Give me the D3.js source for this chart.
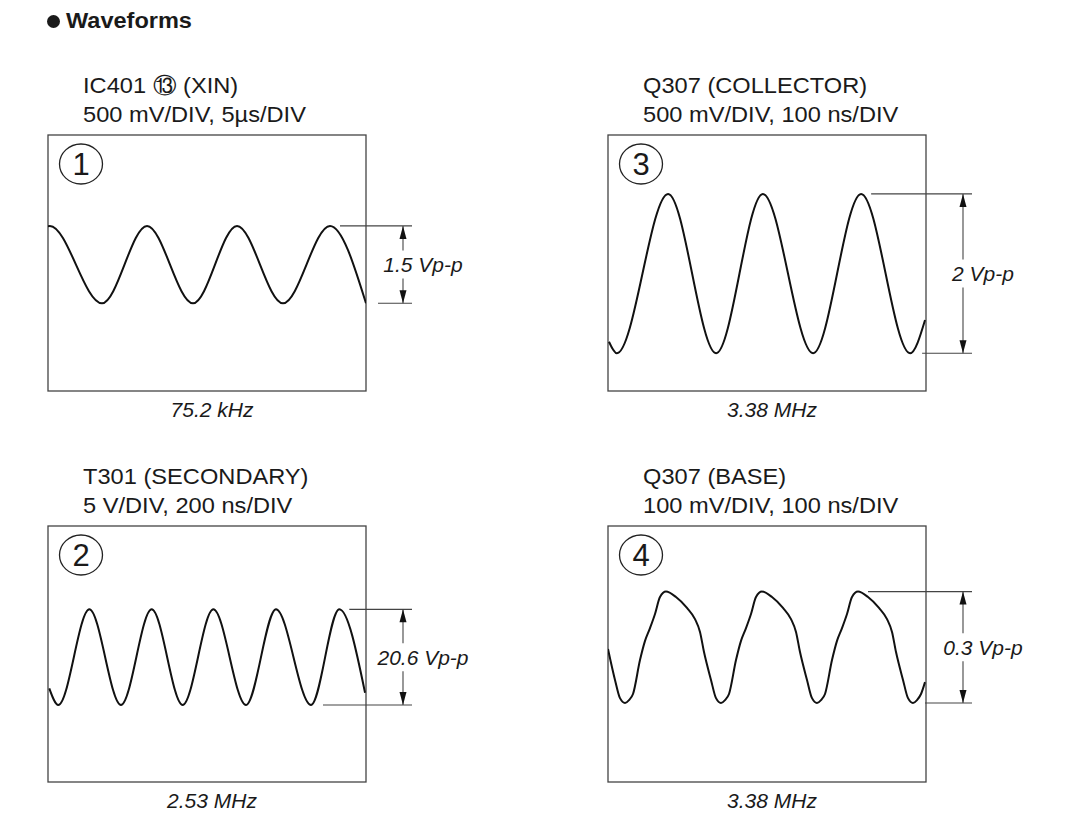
<!DOCTYPE html>
<html>
<head>
<meta charset="utf-8">
<script src="https://cdn.jsdelivr.net/npm/d3@7/dist/d3.min.js"></script>
<style>
  html, body { margin: 0; padding: 0; background: #ffffff; }
  svg { display: block; }
</style>
</head>
<body>
<svg id="chart" width="1069" height="831"></svg>
<script>
// ---------------- DATA ----------------
const heading = "Waveforms";

// panel order: ① top-left, ② bottom-left, ③ top-right, ④ bottom-right
const panelNumbers = ["1", "2", "3", "4"];
const titleLine1 = ["IC401 \u246C (XIN)", "T301 (SECONDARY)", "Q307 (COLLECTOR)", "Q307 (BASE)"];
const titleLine2 = ["500 mV/DIV, 5\u00B5s/DIV", "5 V/DIV, 200 ns/DIV", "500 mV/DIV, 100 ns/DIV", "100 mV/DIV, 100 ns/DIV"];
const timePerDiv = [5, 200, 100, 100];     // µs, ns, ns, ns
const voltPerDiv = [0.5, 5, 0.5, 100];     // V, V, V, mV
const vppLabels  = ["1.5 Vp-p", "20.6 Vp-p", "2 Vp-p", "0.3 Vp-p"];
const freqLabels = ["75.2 kHz", "2.53 MHz", "3.38 MHz", "3.38 MHz"];

// ① IC401 XIN : time (µs), voltage (V)
const wave1Time = [-1.2, 0.3, 8.49, 15.57, 22.80, 29.72, 36.95, 44.34, 50.0];
const wave1Volt = [0.50, 0.58, -0.63, 0.58, -0.63, 0.58, -0.63, 0.58, -0.63];

// ② T301 secondary : time (ns), voltage (V)
const wave2Time = [8, 65, 260, 459, 652, 847, 1040, 1245, 1434, 1654, 1832, 1994];
const wave2Volt = [-5.36, -7.97, 6.98, -7.97, 6.98, -7.97, 6.98, -7.97, 6.98, -7.97, 6.98, -6.05];

// ③ Q307 collector : time (ns), voltage (V)
const wave3Time = [3, 28, 189, 340, 487, 645, 796, 950, 997];
const wave3Volt = [-1.23, -1.41, 1.08, -1.41, 1.08, -1.41, 1.08, -1.41, -0.89];

// ④ Q307 base : time (ns), voltage (mV)
const wave4Time = [0, 22.0, 37.7,
  53.5, 66.0, 78.6, 100.6, 116.4, 132.1, 147.8, 163.5, 182.4, 213.8, 248.4, 273.6, 289.3, 301.9, 323.9, 339.6,
  355.3, 367.9, 380.5, 402.5, 418.2, 434.0, 449.7, 465.4, 484.3, 515.7, 550.3, 575.5, 591.2, 603.8, 625.8, 641.5,
  657.2, 669.8, 682.4, 704.4, 720.1, 735.9, 751.6, 767.3, 786.2, 817.6, 852.2, 877.4, 893.1, 905.7, 927.7, 943.4,
  959.1, 971.7, 984.3, 996.9];
const wave4Volt = [16, -81, -138,
  -153, -144, -125, -19, 41, 81, 125, 178, 195, 178, 144, 109, 69, 6, -81, -138,
  -153, -144, -125, -19, 41, 81, 125, 178, 195, 178, 144, 109, 69, 6, -81, -138,
  -153, -144, -125, -19, 41, 81, 125, 178, 195, 178, 144, 109, 69, 6, -81, -138,
  -153, -144, -125, -88];

const waveTimes = [wave1Time, wave2Time, wave3Time, wave4Time];
const waveVolts = [wave1Volt, wave2Volt, wave3Volt, wave4Volt];

// ---------------- LAYOUT ----------------
const svg = d3.select("#chart");
const FONT = "'Liberation Sans', Arial, Helvetica, sans-serif";
const TEXT = "#1a1a1a";
const BOX_W = 318, BOX_H = 256;
const boxX = [48, 48, 608, 608];
const boxY = [135, 526, 135, 526];

// heading
svg.append("circle").attr("cx", 53.5).attr("cy", 21.5).attr("r", 6.5).attr("fill", TEXT);
svg.append("text")
  .attr("transform", "translate(66,28) scale(1.07,1)")
  .attr("font-family", FONT).attr("font-weight", "bold").attr("font-size", 22)
  .attr("fill", TEXT).text(heading);

const defs = svg.append("defs");

panelNumbers.forEach((num, i) => {
  const x0 = boxX[i], y0 = boxY[i];
  const t = waveTimes[i], v = waveVolts[i];
  const x = d3.scaleLinear().domain([0, 10 * timePerDiv[i]]).range([x0, x0 + BOX_W]);
  const y = d3.scaleLinear().domain([-4 * voltPerDiv[i], 4 * voltPerDiv[i]]).range([y0 + BOX_H, y0]);
  const g = svg.append("g");

  // titles
  g.append("text")
    .attr("transform", `translate(${x0 + 35},${y0 - 42}) scale(1.075,1)`)
    .attr("font-family", FONT).attr("font-size", 22).attr("fill", TEXT)
    .text(titleLine1[i]);
  g.append("text")
    .attr("transform", `translate(${x0 + 35},${y0 - 13}) scale(1.075,1)`)
    .attr("font-family", FONT).attr("font-size", 22).attr("fill", TEXT)
    .text(titleLine2[i]);

  // frame
  g.append("rect")
    .attr("x", x.range()[0]).attr("y", y.range()[1])
    .attr("width", x.range()[1] - x.range()[0]).attr("height", y.range()[0] - y.range()[1])
    .attr("fill", "none").attr("stroke", "#444").attr("stroke-width", 1.3);

  // circled number
  g.append("ellipse")
    .attr("cx", x0 + 33).attr("cy", y0 + 29).attr("rx", 21.5).attr("ry", 20)
    .attr("fill", "none").attr("stroke", "#222").attr("stroke-width", 1.3);
  g.append("text")
    .attr("x", x0 + 33).attr("y", y0 + 40)
    .attr("text-anchor", "middle")
    .attr("font-family", FONT).attr("font-size", 31).attr("fill", TEXT)
    .text(num);

  // waveform
  const clipId = "clip" + i;
  defs.append("clipPath").attr("id", clipId)
    .append("rect").attr("x", x0).attr("y", y0).attr("width", BOX_W).attr("height", BOX_H);
  const pts = t.map((tt, k) => [tt, v[k]]);
  const line = d3.line().x(d => x(d[0])).y(d => y(d[1])).curve(d3.curveMonotoneX);
  g.append("path")
    .attr("d", line(pts))
    .attr("clip-path", `url(#${clipId})`)
    .attr("fill", "none").attr("stroke", "#111").attr("stroke-width", 2)
    .attr("stroke-linejoin", "round");

  // peak-to-peak annotation
  const vMax = d3.max(v), vMin = d3.min(v);
  let iPeak = 0, iTrough = 0;
  v.forEach((val, k) => { if (val === vMax) iPeak = k; if (val === vMin) iTrough = k; });
  const yT = y(vMax), yB = y(vMin);
  const xEnd = x0 + BOX_W + 46;
  const ax = x0 + BOX_W + 37;
  const yM = (yT + yB) / 2;
  const ann = g.append("g").attr("stroke", "#444").attr("stroke-width", 1.1).attr("fill", "none");
  ann.append("line").attr("x1", x(t[iPeak]) + 10).attr("x2", xEnd).attr("y1", yT).attr("y2", yT);
  ann.append("line").attr("x1", x(t[iTrough]) + 12).attr("x2", xEnd).attr("y1", yB).attr("y2", yB);
  ann.append("line").attr("x1", ax).attr("x2", ax).attr("y1", yT).attr("y2", yM - 14);
  ann.append("line").attr("x1", ax).attr("x2", ax).attr("y1", yM + 14).attr("y2", yB);
  g.append("path")
    .attr("d", `M${ax},${yT} L${ax - 3.5},${yT + 13} L${ax + 3.5},${yT + 13} Z`)
    .attr("fill", "#111");
  g.append("path")
    .attr("d", `M${ax},${yB} L${ax - 3.5},${yB - 13} L${ax + 3.5},${yB - 13} Z`)
    .attr("fill", "#111");
  g.append("text")
    .attr("x", ax + 20).attr("y", yM + 7.5)
    .attr("text-anchor", "middle")
    .attr("font-family", FONT).attr("font-style", "italic").attr("font-size", 21).attr("fill", TEXT)
    .text(vppLabels[i]);

  // frequency
  g.append("text")
    .attr("x", x0 + BOX_W / 2 + 5).attr("y", y0 + BOX_H + 26)
    .attr("text-anchor", "middle")
    .attr("font-family", FONT).attr("font-style", "italic").attr("font-size", 21).attr("fill", TEXT)
    .text(freqLabels[i]);
});
</script>
</body>
</html>
